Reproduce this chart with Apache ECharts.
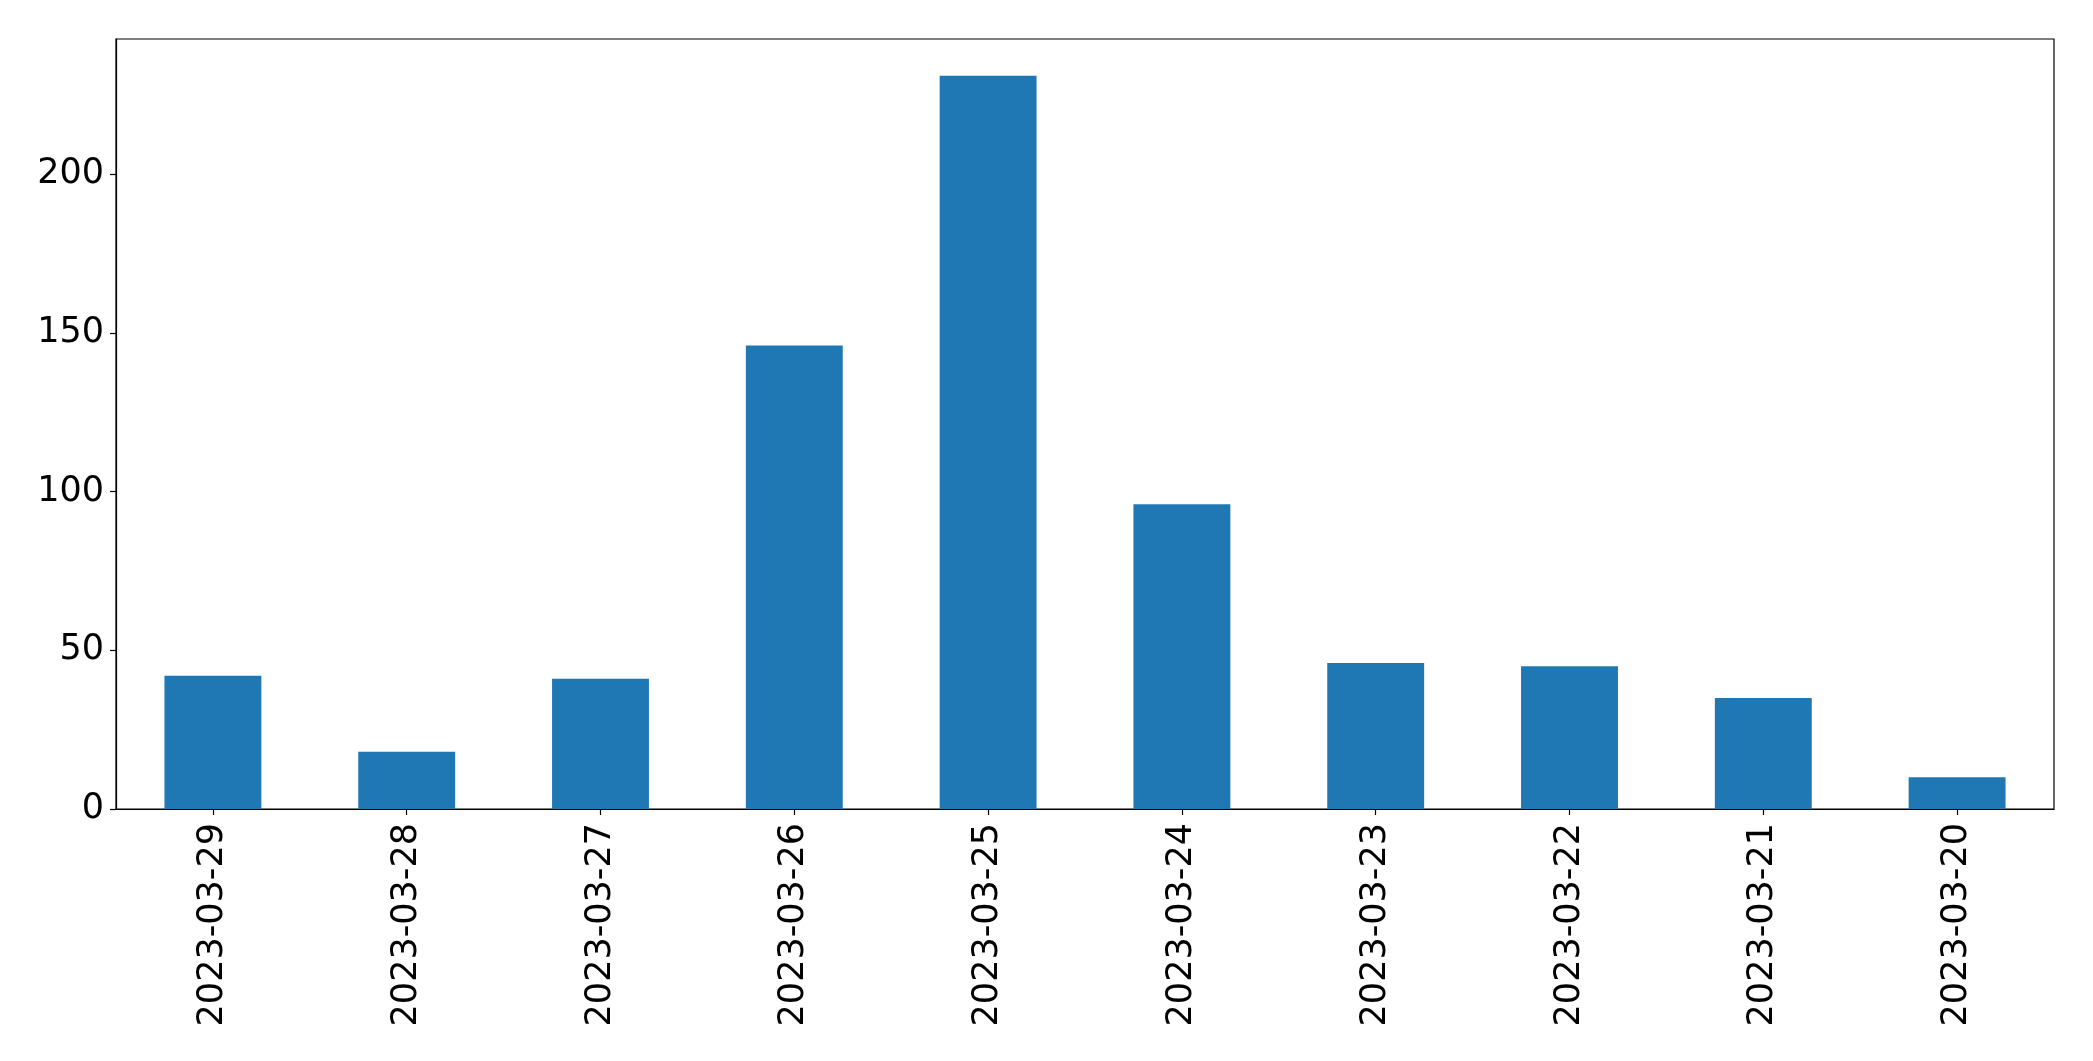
<!DOCTYPE html>
<html>
<head>
<meta charset="utf-8">
<script src="https://cdn.jsdelivr.net/npm/echarts@6/dist/echarts.min.js"></script>
<style>html,body{margin:0;padding:0;background:#fff}#c{width:2093px;height:1061px}</style>
</head>
<body>
<div id="c"></div>
<script>
const categories = ['2023-03-29','2023-03-28','2023-03-27','2023-03-26','2023-03-25','2023-03-24','2023-03-23','2023-03-22','2023-03-21','2023-03-20'];
const values = [42, 18, 41, 146, 231, 96, 46, 45, 35, 10];
const yTicks = [0, 50, 100, 150, 200];

const chart = echarts.init(document.getElementById('c'), null, {renderer: 'canvas'});
const font = 'DejaVu Sans';
chart.setOption({
  animation: false,
  backgroundColor: '#ffffff',
  grid: {left: 116, right: 39, top: 39, bottom: 252, containLabel: false, show: true, borderColor: '#000', borderWidth: 1.2, backgroundColor: 'transparent'},
  xAxis: {
    type: 'category',
    data: categories,
    axisLine: {show: true, lineStyle: {color: '#000', width: 1.2}},
    axisTick: {show: true, alignWithLabel: true, length: 6, lineStyle: {color: '#000', width: 1.2}},
    axisLabel: {rotate: 90, fontSize: 35, fontFamily: font, color: '#000', margin: 14, interval: 0},
    splitLine: {show: false}
  },
  yAxis: {
    type: 'value',
    min: 0,
    max: Math.max(...values) * 1.05,
    interval: 50,
    axisLine: {show: true, lineStyle: {color: '#000', width: 1.2}},
    axisTick: {show: true, length: 6, lineStyle: {color: '#000', width: 1.2}},
    axisLabel: {fontSize: 35, fontFamily: font, color: '#000', margin: 12, showMaxLabel: false,
      padding: [6, 0, 0, 0],
      formatter: v => yTicks.includes(v) ? String(v) : ''},
    splitLine: {show: false}
  },
  series: [{
    type: 'bar',
    data: values,
    barWidth: '50%',
    itemStyle: {color: '#1f77b4'}
  }]
});
</script>
</body>
</html>
